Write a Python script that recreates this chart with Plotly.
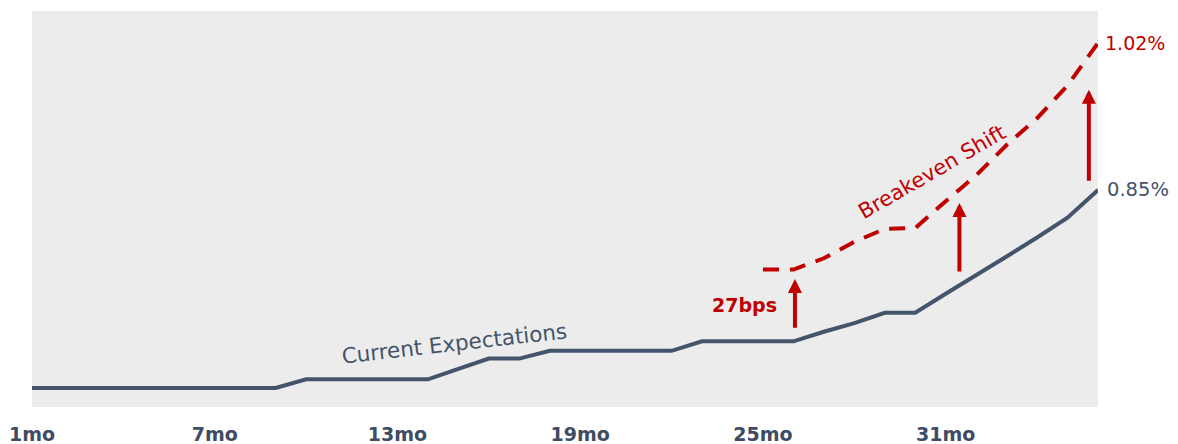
import plotly.graph_objects as go

# ---- data ----
months = list(range(1, 37))
current_expectations = [
    0.621, 0.621, 0.621, 0.621, 0.621, 0.621, 0.621, 0.621, 0.621,  # 1-9
    0.631, 0.631, 0.631, 0.631, 0.631,                               # 10-14
    0.643, 0.655, 0.655,                                             # 15-17
    0.664, 0.664, 0.664, 0.664, 0.664,                               # 18-22
    0.675, 0.675, 0.675, 0.675,                                      # 23-26
    0.686, 0.696, 0.708, 0.708,                                      # 27-30
    0.730, 0.751, 0.773, 0.795, 0.818, 0.850,                        # 31-36
]
breakeven_months = list(range(25, 37))
breakeven_shift = [
    0.758, 0.758, 0.771, 0.790, 0.805, 0.806,
    0.837, 0.867, 0.902, 0.933, 0.971, 1.020,
]
tick_months = [1, 7, 13, 19, 25, 31]
tick_labels = ["1mo", "7mo", "13mo", "19mo", "25mo", "31mo"]

# arrows: month, from value, to value
arrow_months = [26.05, 31.45, 35.7]
arrow_from = [0.689, 0.754, 0.859]
arrow_to = [0.747, 0.835, 0.966]

end_labels = ["1.02%", "0.85%"]
end_values = [1.020, 0.850]

BLUE = "#44546a"
RED = "#c00000"
FONT = "DejaVu Sans"

fig = go.Figure()
fig.add_trace(go.Scatter(
    x=months, y=current_expectations, mode="lines",
    line=dict(color=BLUE, width=4), hoverinfo="skip", showlegend=False,
))
fig.add_trace(go.Scatter(
    x=breakeven_months, y=breakeven_shift, mode="lines",
    line=dict(color=RED, width=4, dash="16px,11px"), hoverinfo="skip", showlegend=False,
))

annotations = []
for m, a, b in zip(arrow_months, arrow_from, arrow_to):
    annotations.append(dict(
        x=m, y=b, ax=m, ay=a, xref="x", yref="y", axref="x", ayref="y",
        text="", showarrow=True, arrowhead=2, arrowsize=0.7, arrowwidth=4,
        arrowcolor=RED,
    ))

annotations.append(dict(
    x=14.86, y=0.673, xref="x", yref="y", text="Current Expectations",
    showarrow=False, textangle=-6.5, font=dict(family=FONT, size=21.5, color=BLUE),
))
annotations.append(dict(
    x=30.55, y=0.871, xref="x", yref="y", text="Breakeven Shift",
    showarrow=False, textangle=-30, font=dict(family=FONT, size=21, color=RED),
))
annotations.append(dict(
    x=24.38, y=0.717, xref="x", yref="y", text="<b>27bps</b>",
    showarrow=False, font=dict(family=FONT, size=19, color=RED),
))
annotations.append(dict(
    x=36, y=end_values[0], xref="x", yref="y", text=end_labels[0],
    xanchor="left", xshift=5, showarrow=False,
    font=dict(family=FONT, size=19, color=RED),
))
annotations.append(dict(
    x=36, y=end_values[1], xref="x", yref="y", text=end_labels[1],
    xanchor="left", xshift=7, showarrow=False,
    font=dict(family=FONT, size=19.5, color=BLUE),
))

fig.update_layout(
    width=1178, height=444,
    margin=dict(l=32, r=80, t=11, b=37),
    paper_bgcolor="white", plot_bgcolor="#ececec",
    annotations=annotations,
    xaxis=dict(
        range=[1, 36], tickvals=tick_months, ticktext=[f"<b>{t}</b>" for t in tick_labels],
        showgrid=False, zeroline=False, showline=False, automargin=False,
        ticks="outside", ticklen=10, tickcolor="rgba(0,0,0,0)",
        tickfont=dict(family=FONT, size=19, color="#3e4c63"),
    ),
    yaxis=dict(
        range=[0.599, 1.057], showgrid=False, zeroline=False, showline=False,
        showticklabels=False, ticks="", automargin=False,
    ),
)

fig.write_html("out.html")
